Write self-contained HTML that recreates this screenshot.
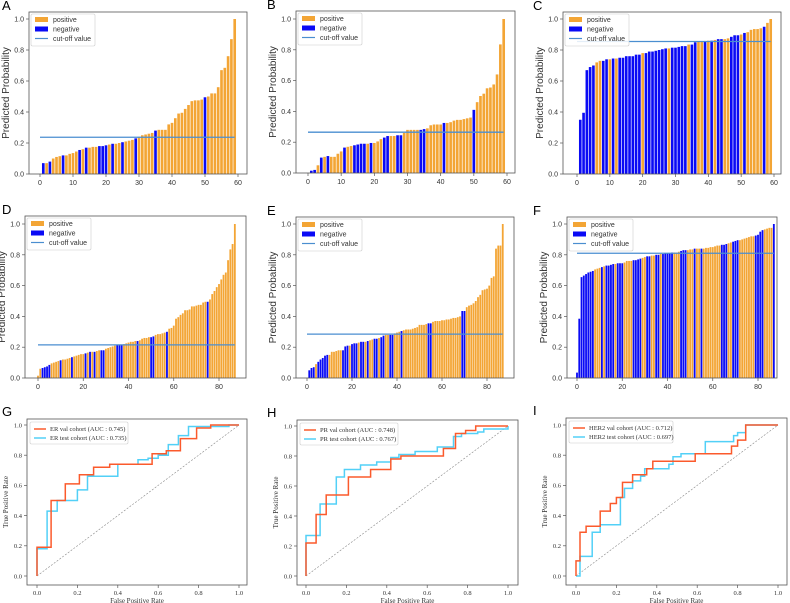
<!DOCTYPE html>
<html><head><meta charset="utf-8"><style>
html,body{margin:0;padding:0;background:#fff;}
svg{display:block;}
</style></head><body>
<svg id="fig" width="790" height="603" viewBox="0 0 790 603" xmlns="http://www.w3.org/2000/svg"></svg>
<script>
// ---------- data ----------
const valsA=[0.0,0.07,0.07,0.08,0.10,0.11,0.115,0.12,0.12,0.13,0.135,0.145,0.155,0.16,0.17,0.17,0.175,0.175,0.18,0.18,0.185,0.19,0.195,0.195,0.20,0.205,0.21,0.215,0.22,0.23,0.24,0.25,0.255,0.26,0.265,0.28,0.285,0.285,0.285,0.32,0.33,0.36,0.39,0.395,0.42,0.445,0.47,0.475,0.475,0.48,0.495,0.50,0.52,0.52,0.56,0.67,0.685,0.76,0.87,1.0];
const negA=[1,3,7,12,14,18,19,20,22,25,29,35,50];
const cutA=0.237;
const valsB=[0.0,0.015,0.02,0.05,0.10,0.105,0.11,0.105,0.105,0.125,0.14,0.165,0.17,0.175,0.18,0.185,0.19,0.19,0.19,0.195,0.195,0.205,0.22,0.23,0.24,0.24,0.24,0.245,0.245,0.26,0.28,0.28,0.28,0.28,0.28,0.285,0.29,0.31,0.315,0.315,0.315,0.325,0.325,0.33,0.34,0.345,0.345,0.35,0.355,0.36,0.41,0.46,0.50,0.515,0.55,0.555,0.575,0.64,0.835,1.0];
const negB=[1,2,4,6,11,14,15,16,17,19,23,24,27,28,34,35,41,50];
const cutB=0.265;
const valsC=[0.0,0.35,0.395,0.67,0.69,0.70,0.72,0.73,0.73,0.74,0.74,0.745,0.745,0.75,0.75,0.76,0.76,0.76,0.77,0.77,0.78,0.78,0.79,0.79,0.795,0.80,0.805,0.81,0.81,0.815,0.815,0.82,0.825,0.825,0.835,0.835,0.85,0.855,0.855,0.855,0.86,0.86,0.865,0.87,0.87,0.87,0.875,0.885,0.895,0.895,0.90,0.91,0.915,0.93,0.935,0.935,0.94,0.95,0.975,1.0];
const negC=[1,2,3,4,5,8,9,11,13,14,15,16,17,18,19,21,22,23,24,25,26,27,29,30,31,32,33,35,36,39,41,43,44,47,48,49,51,57];
const cutC=0.855;
const valsD=[0.015,0.06,0.065,0.07,0.075,0.085,0.095,0.10,0.105,0.11,0.115,0.12,0.12,0.125,0.13,0.135,0.14,0.145,0.15,0.155,0.155,0.16,0.165,0.17,0.17,0.17,0.175,0.18,0.18,0.18,0.19,0.195,0.20,0.205,0.21,0.215,0.215,0.215,0.22,0.225,0.23,0.235,0.235,0.24,0.24,0.245,0.255,0.26,0.26,0.265,0.265,0.27,0.28,0.285,0.285,0.29,0.295,0.30,0.32,0.325,0.34,0.385,0.395,0.41,0.42,0.44,0.44,0.445,0.465,0.465,0.47,0.475,0.475,0.49,0.495,0.495,0.51,0.545,0.565,0.59,0.61,0.64,0.67,0.685,0.765,0.835,0.87,1.0];
const negD=[2,3,4,5,10,15,21,23,25,28,29,35,36,37,44,50,51,57,75];
const cutD=0.215;
const valsE=[0.0,0.05,0.065,0.07,0.09,0.105,0.12,0.13,0.145,0.15,0.15,0.17,0.17,0.175,0.18,0.18,0.18,0.205,0.21,0.21,0.22,0.225,0.225,0.23,0.235,0.235,0.235,0.24,0.245,0.25,0.255,0.255,0.26,0.265,0.275,0.28,0.28,0.28,0.28,0.29,0.295,0.30,0.305,0.31,0.315,0.315,0.315,0.32,0.325,0.33,0.345,0.345,0.345,0.35,0.355,0.355,0.365,0.37,0.37,0.37,0.375,0.375,0.38,0.38,0.385,0.39,0.39,0.395,0.40,0.435,0.435,0.46,0.47,0.475,0.485,0.50,0.525,0.54,0.57,0.575,0.58,0.60,0.65,0.66,0.84,0.86,0.86,1.0];
const negE=[1,2,3,5,6,7,8,9,16,17,18,20,21,22,24,25,27,30,31,33,34,37,38,42,54,55,69,70];
const cutE=0.285;
const valsF=[0.035,0.385,0.655,0.665,0.675,0.685,0.69,0.695,0.705,0.71,0.715,0.72,0.725,0.73,0.73,0.735,0.74,0.74,0.745,0.745,0.745,0.75,0.76,0.76,0.76,0.765,0.765,0.77,0.775,0.78,0.785,0.79,0.79,0.795,0.795,0.80,0.80,0.805,0.805,0.81,0.81,0.81,0.815,0.815,0.815,0.82,0.825,0.83,0.83,0.83,0.835,0.835,0.84,0.84,0.84,0.84,0.84,0.845,0.845,0.85,0.85,0.855,0.86,0.86,0.865,0.865,0.87,0.875,0.88,0.885,0.89,0.895,0.895,0.90,0.905,0.91,0.915,0.92,0.92,0.925,0.93,0.95,0.96,0.965,0.97,0.975,0.975,1.0];
const posF=[8,9,10,12,17,21,22,23,24,29,30,33,34,37,43,44,45,49,50,51,53,54,56,57,58,59,60,61,62,63,67,68,72,73,74,75,76,77,78,83,84,85,86];
const cutF=0.81;
const ticks60=[0,10,20,30,40,50,60];
const ticks88=[0,20,40,60,80];
const yTicks=[0.0,0.2,0.4,0.6,0.8,1.0];
const rocTicks=[0.0,0.2,0.4,0.6,0.8,1.0];
const gValX=[0,0,0.07,0.07,0.14,0.14,0.21,0.21,0.28,0.28,0.36,0.36,0.57,0.57,0.64,0.64,0.71,0.71,0.79,0.79,0.86,0.86,1];
const gValY=[0,0.19,0.19,0.5,0.5,0.61,0.61,0.67,0.67,0.72,0.72,0.74,0.74,0.81,0.81,0.83,0.83,0.91,0.91,0.98,0.98,1,1];
const gTestX=[0,0,0.05,0.05,0.1,0.1,0.2,0.2,0.25,0.25,0.4,0.4,0.5,0.5,0.55,0.55,0.6,0.6,0.65,0.65,0.7,0.7,0.75,0.75,0.95,0.95,1];
const gTestY=[0,0.18,0.18,0.43,0.43,0.5,0.5,0.57,0.57,0.66,0.66,0.74,0.74,0.77,0.77,0.78,0.78,0.8,0.8,0.87,0.87,0.93,0.93,0.99,0.99,1,1];
const hValX=[0,0,0.05,0.05,0.1,0.1,0.21,0.21,0.32,0.32,0.42,0.42,0.47,0.47,0.68,0.68,0.74,0.74,0.79,0.79,0.84,0.84,1];
const hValY=[0,0.22,0.22,0.41,0.41,0.54,0.54,0.66,0.66,0.71,0.71,0.78,0.78,0.80,0.80,0.85,0.85,0.95,0.95,0.97,0.97,1,1];
const hTestX=[0,0,0.07,0.07,0.15,0.15,0.19,0.19,0.27,0.27,0.35,0.35,0.42,0.42,0.46,0.46,0.54,0.54,0.65,0.65,0.73,0.73,0.77,0.77,0.85,0.85,0.88,0.88,1,1];
const hTestY=[0,0.27,0.27,0.48,0.48,0.66,0.66,0.71,0.71,0.74,0.74,0.76,0.76,0.79,0.79,0.81,0.81,0.83,0.83,0.86,0.86,0.93,0.93,0.95,0.95,0.96,0.96,0.98,0.98,1];
const iValX=[0,0,0.02,0.02,0.05,0.05,0.12,0.12,0.17,0.17,0.2,0.2,0.23,0.23,0.28,0.28,0.35,0.35,0.38,0.38,0.59,0.59,0.77,0.77,0.8,0.8,0.84,0.84,1];
const iValY=[0,0.1,0.1,0.29,0.29,0.33,0.33,0.43,0.43,0.48,0.48,0.52,0.52,0.62,0.62,0.67,0.67,0.71,0.71,0.76,0.76,0.81,0.81,0.86,0.86,0.9,0.9,1,1];
const iTestX=[0,0.02,0.02,0.08,0.08,0.12,0.12,0.22,0.22,0.24,0.24,0.28,0.28,0.32,0.32,0.34,0.34,0.46,0.46,0.48,0.48,0.52,0.52,0.64,0.64,0.78,0.78,0.8,0.8,0.84,0.84,1];
const iTestY=[0,0,0.13,0.13,0.29,0.29,0.34,0.34,0.52,0.52,0.58,0.58,0.63,0.63,0.66,0.66,0.71,0.71,0.74,0.74,0.79,0.79,0.81,0.81,0.89,0.89,0.93,0.93,0.95,0.95,1,1];

// ---------- drawing ----------
const NS='http://www.w3.org/2000/svg';
const svg=document.getElementById('fig');
const ORANGE='#f3a535', BLUE='#0a0af5', CUT='#4a8ed0', RED='#fb5a2c', CYAN='#52d0f7';
function mk(tag,attrs,parent){const e=document.createElementNS(NS,tag);for(const k in attrs)e.setAttribute(k,attrs[k]);(parent||svg).appendChild(e);return e;}
function txt(s,attrs,parent){const t=mk('text',attrs,parent);t.textContent=s;return t;}

function barPanel(p){
  const g=mk('g',{});
  
  
  const sx=v=>p.x0+(v-0)*(p.xr-p.x0)/p.xrv;
  const sy=v=>p.y0-(v)*(p.y0-p.y1);
  const lt=txt(p.id,{x:p.lx,y:p.by-2,'font-size':13,'font-family':'Liberation Sans, sans-serif',fill:'#000'},g);
  
  
  const unit=(p.xr-p.x0)/p.xrv;
  p.vals.forEach((v,i)=>{
    const neg=p.neg?p.neg.includes(i):!p.pos.includes(i);
    const r=mk('rect',{x:sx(i)-0.4*unit,y:sy(v),width:0.8*unit,height:sy(0)-sy(v),fill:neg?BLUE:ORANGE},g);
    
    
  });
  const cl=mk('line',{x1:sx(0),x2:sx(p.vals.length-1),y1:sy(p.cut),y2:sy(p.cut),stroke:CUT,'stroke-width':1.3},g);
  
  
  const fr=mk('rect',{x:p.bx,y:p.by,width:p.bw,height:p.bh,fill:'none',stroke:'#555','stroke-width':0.8},g);
  
  
  p.xt.forEach(t=>{
    mk('line',{x1:sx(t),x2:sx(t),y1:p.by+p.bh,y2:p.by+p.bh+3,stroke:'#555','stroke-width':0.7},g);
    const l=txt(t,{x:sx(t),y:p.by+p.bh+11,'font-size':7,'text-anchor':'middle','font-family':'Liberation Sans, sans-serif',fill:'#333'},g);
    
    
  });
  yTicks.forEach(t=>{
    mk('line',{x1:p.bx-3,x2:p.bx,y1:sy(t),y2:sy(t),stroke:'#555','stroke-width':0.7},g);
    const l=txt(t.toFixed(1),{x:p.bx-5,y:sy(t)+2.5,'font-size':7,'text-anchor':'end','font-family':'Liberation Sans, sans-serif',fill:'#333'},g);
    
    
  });
  const yl=txt('Predicted Probability',{x:0,y:0,'font-size':10,'text-anchor':'middle','font-family':'Liberation Sans, sans-serif',fill:'#333',transform:`translate(${p.bx-20},${p.by+p.bh/2}) rotate(-90)`},g);
  
  
  const lg=mk('g',{},g);
  
  
  const lx=p.bx+2, ly=p.by+2;
  mk('rect',{x:lx,y:ly,width:64,height:32,fill:'#fff','fill-opacity':0.85,stroke:'#ccc','stroke-width':0.6,rx:1.5},lg);
  mk('rect',{x:lx+4,y:ly+3,width:13,height:5,fill:ORANGE},lg);
  txt('positive',{x:lx+22,y:ly+8,'font-size':7,'font-family':'Liberation Sans, sans-serif',fill:'#333'},lg);
  mk('rect',{x:lx+4,y:ly+12.5,width:13,height:5,fill:BLUE},lg);
  txt('negative',{x:lx+22,y:ly+17.5,'font-size':7,'font-family':'Liberation Sans, sans-serif',fill:'#333'},lg);
  mk('line',{x1:lx+4,x2:lx+17,y1:ly+24.5,y2:ly+24.5,stroke:CUT,'stroke-width':1.2},lg);
  txt('cut-off value',{x:lx+22,y:ly+27,'font-size':7,'font-family':'Liberation Sans, sans-serif',fill:'#333'},lg);
}

function rocPanel(p){
  const g=mk('g',{});
  
  
  const sx=v=>p.x0+v*(p.x1-p.x0);
  const sy=v=>p.y0-v*(p.y0-p.y1);
  const lt=txt(p.id,{x:p.lx,y:p.by-3,'font-size':13,'font-family':'Liberation Sans, sans-serif',fill:'#000'},g);
  
  
  const fr=mk('rect',{x:p.bx,y:p.by,width:p.bw,height:p.bh,fill:'none',stroke:'#555','stroke-width':0.8},g);
  
  
  const dg=mk('line',{x1:sx(0),y1:sy(0),x2:sx(1),y2:sy(1),stroke:'#888','stroke-width':0.6,'stroke-dasharray':'2,1.5'},g);
  
  
  const path=(xs,ys)=>xs.map((x,i)=>(i?'L':'M')+sx(x).toFixed(1)+','+sy(ys[i]).toFixed(1)).join('');
  const tl=mk('path',{d:path(p.tx,p.ty),fill:'none',stroke:CYAN,'stroke-width':1.5},g);
  
  
  const vl=mk('path',{d:path(p.vx,p.vy),fill:'none',stroke:RED,'stroke-width':1.5},g);
  
  
  rocTicks.forEach(t=>{
    mk('line',{x1:sx(t),x2:sx(t),y1:p.by+p.bh,y2:p.by+p.bh+3,stroke:'#555','stroke-width':0.7},g);
    const a=txt(t.toFixed(1),{x:sx(t),y:p.by+p.bh+10,'font-size':6.5,'text-anchor':'middle','font-family':'Liberation Serif, serif',fill:'#333'},g);
    
    
    mk('line',{x1:p.bx-3,x2:p.bx,y1:sy(t),y2:sy(t),stroke:'#555','stroke-width':0.7},g);
    const b=txt(t.toFixed(1),{x:p.bx-5,y:sy(t)+2.3,'font-size':6.5,'text-anchor':'end','font-family':'Liberation Serif, serif',fill:'#333'},g);
    
    
  });
  const xl=txt('False Positive Rate',{x:p.bx+p.bw/2,y:p.by+p.bh+18,'font-size':7,'text-anchor':'middle','font-family':'Liberation Serif, serif',fill:'#333'},g);
  
  
  const yl=txt('True Positive Rate',{x:0,y:0,'font-size':7,'text-anchor':'middle','font-family':'Liberation Serif, serif',fill:'#333',transform:`translate(${p.bx-19},${p.by+p.bh/2}) rotate(-90)`},g);
  
  
  const lg=mk('g',{},g);
  
  
  const lx=p.bx+3, ly=p.by+3;
  mk('rect',{x:lx,y:ly,width:p.lw,height:22,fill:'#fff',stroke:'#ccc','stroke-width':0.6,rx:1.5},lg);
  mk('line',{x1:lx+4,x2:lx+16,y1:ly+7,y2:ly+7,stroke:RED,'stroke-width':1.5},lg);
  txt(p.l1,{x:lx+20,y:ly+9,'font-size':6.5,'font-family':'Liberation Serif, serif',fill:'#333'},lg);
  mk('line',{x1:lx+4,x2:lx+16,y1:ly+16,y2:ly+16,stroke:CYAN,'stroke-width':1.5},lg);
  txt(p.l2,{x:lx+20,y:ly+18,'font-size':6.5,'font-family':'Liberation Serif, serif',fill:'#333'},lg);
}

barPanel({id:'A',lx:2,vals:valsA,neg:negA,cut:cutA,xt:ticks60,xrv:60,x0:40,xr:238,y0:174,y1:19,bx:29,by:12,bw:218,bh:162});
barPanel({id:'B',lx:267,vals:valsB,neg:negB,cut:cutB,xt:ticks60,xrv:60,x0:308,xr:507,y0:173,y1:19,bx:296,by:11,bw:219,bh:162});
barPanel({id:'C',lx:533,vals:valsC,neg:negC,cut:cutC,xt:ticks60,xrv:60,x0:577,xr:774,y0:174,y1:19,bx:563,by:12,bw:218,bh:162});
barPanel({id:'D',lx:2,vals:valsD,neg:negD,cut:cutD,xt:ticks88,xrv:80,x0:38,xr:219,y0:378,y1:224,bx:25,by:216,bw:221,bh:162});
barPanel({id:'E',lx:267,vals:valsE,neg:negE,cut:cutE,xt:ticks88,xrv:80,x0:307,xr:487,y0:378,y1:224,bx:296,by:217,bw:218,bh:161});
barPanel({id:'F',lx:533,vals:valsF,pos:posF,cut:cutF,xt:ticks88,xrv:80,x0:577,xr:758,y0:378,y1:224,bx:567,by:217,bw:210,bh:161});
rocPanel({id:'G',lx:2,vx:gValX,vy:gValY,tx:gTestX,ty:gTestY,l1:'ER val cohort (AUC : 0.745)',l2:'ER test cohort (AUC : 0.735)',lw:98,x0:37,x1:239,y0:576,y1:425,bx:27,by:419,bw:220,bh:166});
rocPanel({id:'H',lx:267,vx:hValX,vy:hValY,tx:hTestX,ty:hTestY,l1:'PR val cohort (AUC : 0.748)',l2:'PR test cohort (AUC : 0.767)',lw:98,x0:306,x1:508,y0:576,y1:426,bx:297,by:420,bw:221,bh:165});
rocPanel({id:'I',lx:533,vx:iValX,vy:iValY,tx:iTestX,ty:iTestY,l1:'HER2 val cohort (AUC : 0.712)',l2:'HER2 test cohort (AUC : 0.697)',lw:104,x0:576,x1:778,y0:576,y1:425,bx:566,by:418,bw:221,bh:167});
</script>
</body></html>
